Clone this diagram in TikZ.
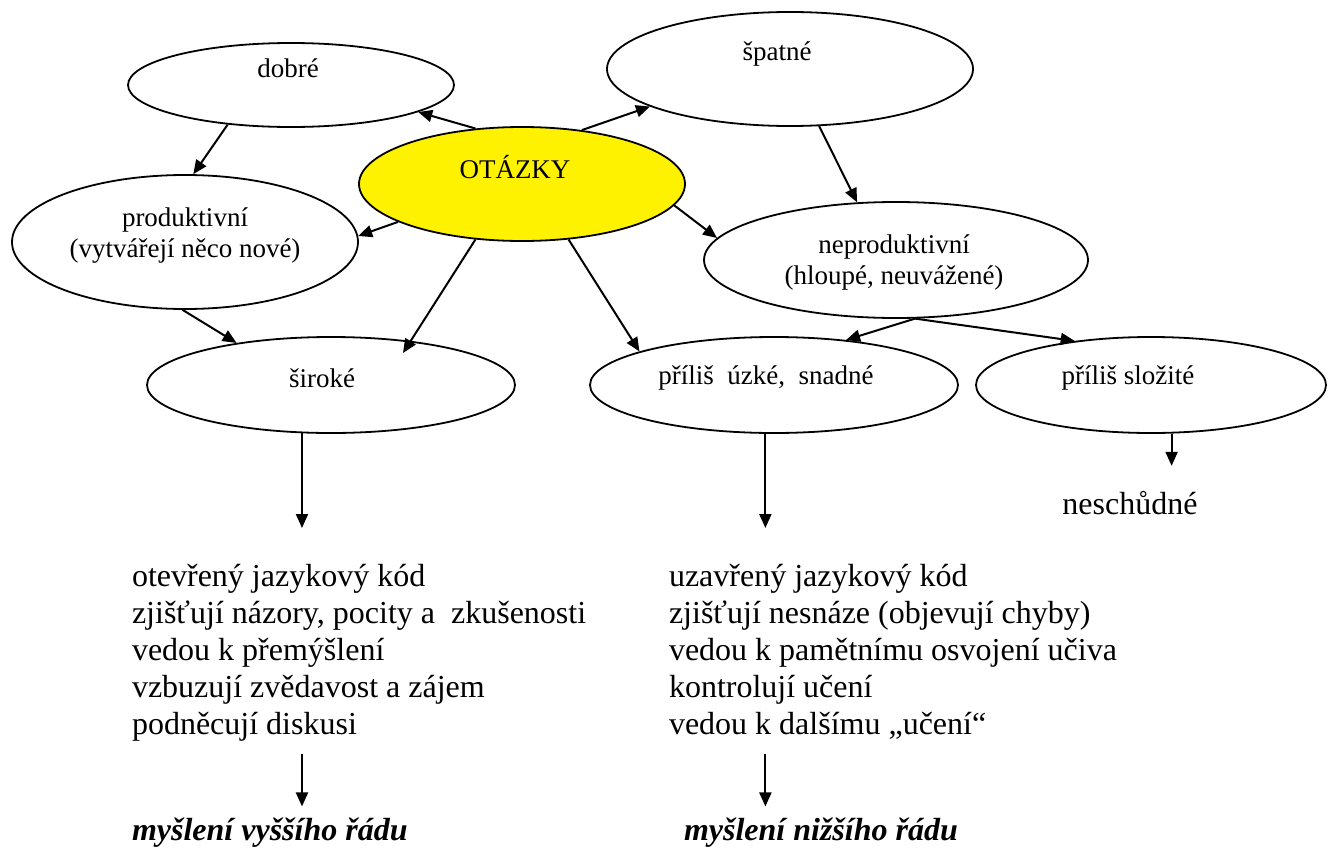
\documentclass[tikz,border=0pt]{standalone}
\usepackage{fontspec}
\setmainfont{Liberation Serif}
\usetikzlibrary{calc}
\usetikzlibrary{arrows.meta, shapes.geometric}

\tikzset{
    bubble/.style     = {draw, ellipse, inner sep = 0pt, line width = 0.9pt},
    bubbletext/.style = {inner sep = 0pt, align = center, font = \rmfamily\fontsize{13.5}{15.5}\selectfont},
    listtext/.style   = {inner sep = 0pt, align = left, font = \rmfamily\fontsize{16}{18.5}\selectfont},
    thinktext/.style  = {inner sep = 0pt, font = \rmfamily\fontsize{16}{18.5}\selectfont\bfseries\itshape}
}

\begin{document}
\begin{tikzpicture}[x = 0.5pt, y = -0.5pt, >={Triangle[length = 7pt, width = 6pt]}, line width = 1pt]
        \useasboundingbox (0, 0) rectangle (1328, 851);

        % ellipses
        \node (dobre)   [bubble, minimum width = 163pt, minimum height = 42pt]             at (291, 85)   {};
        \node (otazky)  [bubble, fill = yellow, minimum width = 163pt, minimum height = 57pt] at (522, 184) {};
        \node (prod)    [bubble, minimum width = 173pt, minimum height = 67pt]             at (185, 242)  {};
        \node (spatne)  [bubble, minimum width = 183pt, minimum height = 57pt]             at (790, 69)   {};
        \node (neprod)  [bubble, minimum width = 192pt, minimum height = 58pt]             at (896, 260)  {};
        \node (siroke)  [bubble, minimum width = 184pt, minimum height = 48pt]             at (331, 385)  {};
        \node (uzke)    [bubble, minimum width = 184pt, minimum height = 48pt]             at (774, 385)  {};
        \node (slozite) [bubble, minimum width = 175pt, minimum height = 48pt]             at (1151, 385) {};

        \node (dobreT)   [bubbletext] at (288, 68)   {dobré};
        \node (otazkyT)  [bubbletext] at (515, 167)  {OTÁZKY};
        \node (prodT)    [bubbletext] at (185, 236)  {produktivní\\(vytvářejí něco nové)};
        \node (spatneT)  [bubbletext] at (777, 54)   {špatné};
        \node (neprodT)  [bubbletext] at (894, 262)  {neproduktivní\\(hloupé, neuvážené)};
        \node (sirokeT)  [bubbletext] at (322, 378)  {široké};
        \node (uzkeT)    [bubbletext] at (766, 378)  {příliš~ úzké,~ snadné};
        \node (sloziteT) [bubbletext] at (1128, 378) {příliš složité};

        % texts below
        \node (nesch)  [listtext, anchor = base]       at (1130, 514) {neschůdné};
        \node (listL)  [listtext, anchor = north west] at (131, 563)  {otevřený jazykový kód\\
            zjišťují názory, pocity a~ zkušenosti\\ vedou k přemýšlení\\
            vzbuzují zvědavost a zájem\\ podněcují diskusi};
        \node (listR)  [listtext, anchor = north west] at (668, 563)  {uzavřený jazykový kód\\
            zjišťují nesnáze (objevují chyby)\\ vedou k pamětnímu osvojení učiva\\
            kontrolují učení\\ vedou k dalšímu „učení“};
        \node (thinkL) [thinktext, anchor = base west] at (131, 840)  {myšlení vyššího řádu};
        \node (thinkR) [thinktext, anchor = base west] at (683, 840)  {myšlení nižšího řádu};

        % arrows
        \draw[->] (otazky.130)  -- (dobre.-12);
        \draw[->] (otazky.42)   -- (spatne.195);
        \draw[->] (dobre.212)   -- (prod.83);
        \draw[->] (otazky.197)  -- (prod.2);
        \draw[->] (otazky.-8)   -- (neprod.173);
        \draw[->] (spatne.297)  -- (neprod.124);
        \draw[->] (otazky.230)  -- ($(siroke.center) + (72, -32)$);
        \draw[->] (otazky.310)  -- (uzke.166);
        \draw[->] (prod.268)    -- (siroke.156);
        \draw[->] (neprod.288)  -- (uzke.32);
        \draw[->] (neprod.288)  -- (slozite.150);

        \draw[->, shorten >= 17.5pt] (siroke.239)  -- (siroke.239 |- listL.north);
        \draw[->, shorten >= 17.5pt] (uzke.260)    -- (uzke.260 |- listR.north);
        \draw[->, shorten >= 12pt]   (slozite.293) -- (slozite.293 |- nesch.north);

        \draw[->, shorten <= 6pt, shorten >= 5pt] (listL.south -| siroke.239) -- (thinkL.north -| siroke.239);
        \draw[->, shorten <= 6pt, shorten >= 5pt] (listL.south -| uzke.260)   -- (thinkR.north -| uzke.260);
    \end{tikzpicture}
\end{document}
